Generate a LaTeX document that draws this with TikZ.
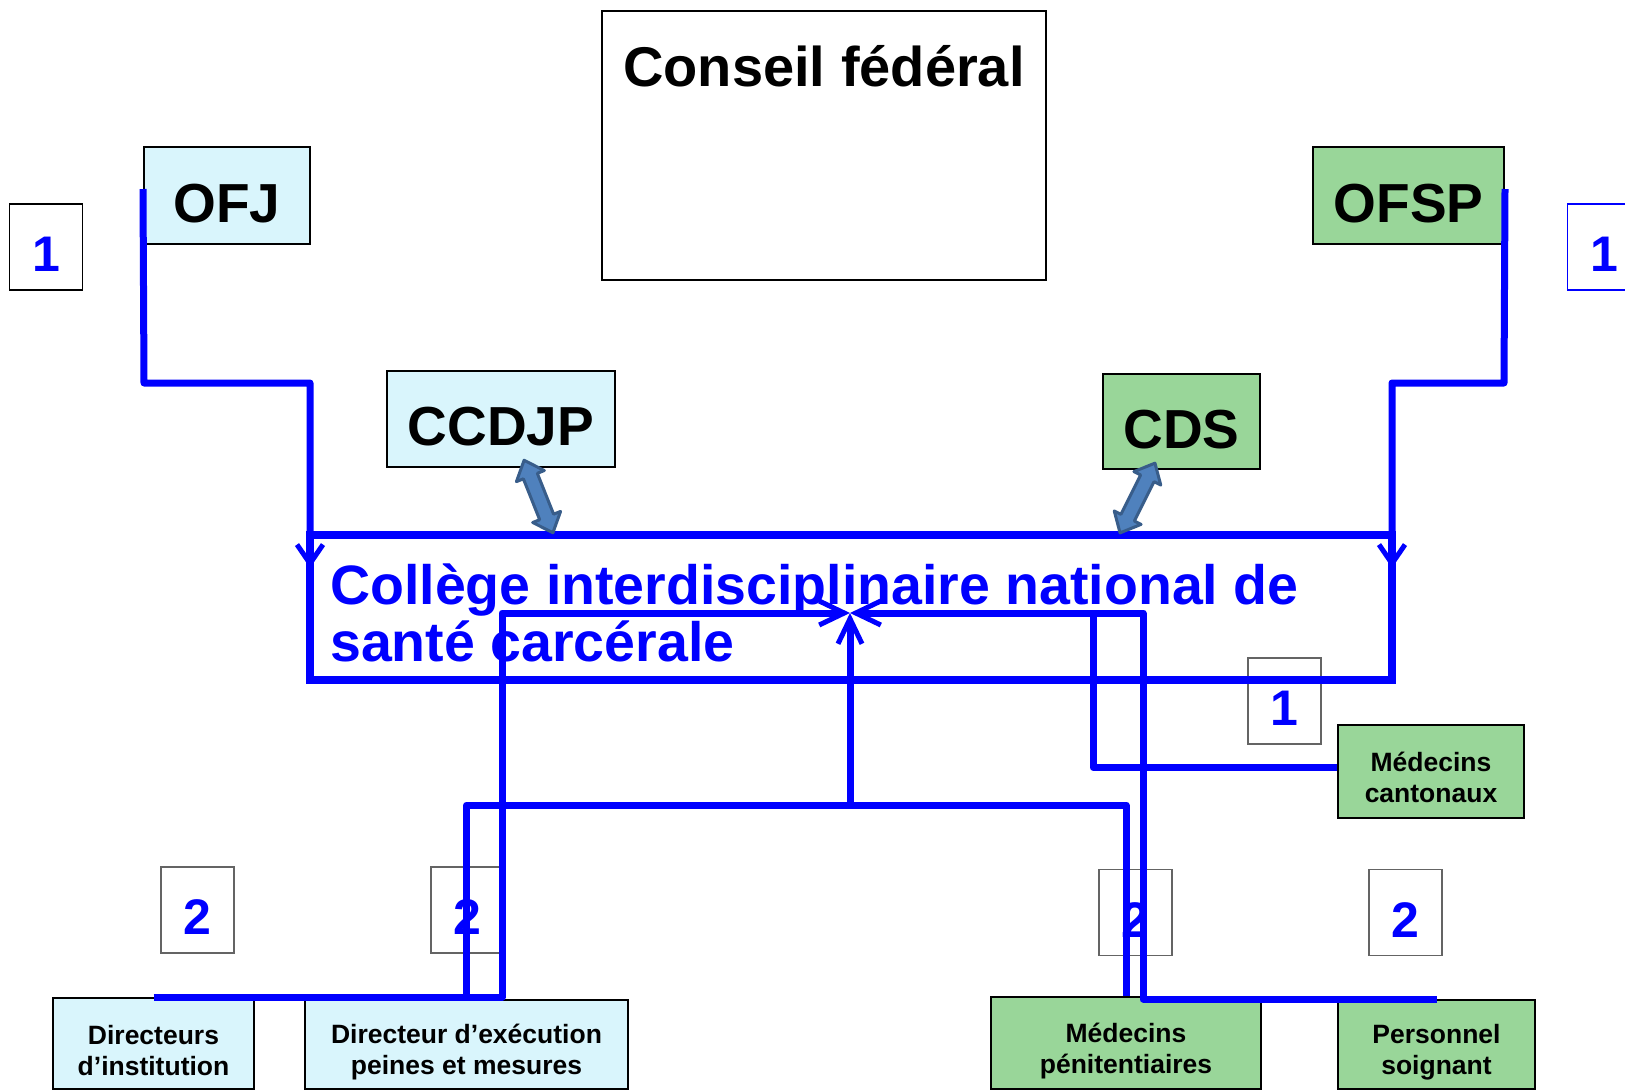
\documentclass[tikz,border=0pt]{standalone}
\usepackage{fontspec}
\setmainfont{Liberation Sans}
\usetikzlibrary{arrows.meta,calc}
\definecolor{cyanfill}{RGB}{217,245,252}
\definecolor{greenfill}{RGB}{153,214,153}
\definecolor{arrfill}{RGB}{79,129,189}
\definecolor{arrdraw}{RGB}{56,93,138}
\definecolor{numgray}{RGB}{100,100,100}
\begin{document}
\begin{tikzpicture}[x=1pt,y=-1pt,
  box/.style={draw=black, line width=2pt, inner sep=0pt},
  cbox/.style={box, fill=cyanfill},
  gbox/.style={box, fill=greenfill},
  bigtxt/.style={font=\fontsize{55}{60}\selectfont\bfseries, text height=53pt, text depth=0pt},
  smalltxt/.style={font=\fontsize{26.5}{31}\selectfont\bfseries, align=center, inner sep=0pt},
  numbox/.style={draw=numgray, line width=1.5pt, minimum width=73pt, minimum height=86pt, inner sep=0pt,
     text=blue, font=\fontsize{50}{50}\selectfont\bfseries, text height=49pt, text depth=0pt},
  bl/.style={draw=blue, line width=7pt, line join=round},
  hubarrow/.style={-{Straight Barb[length=25pt,width=24pt,line width=5pt]}},
  toparrow/.style={-{Straight Barb[length=19pt,width=26pt,line width=5pt]}},
  dblarr/.style={draw=arrdraw, fill=arrfill, line width=3pt, line join=round}
]
\useasboundingbox (0,0) rectangle (1625,1090);

% top boxes
\node[box, minimum width=444pt, minimum height=269pt] (conseil) at (824,145.5) {};
\node[font=\fontsize{56}{60}\selectfont\bfseries, anchor=base] (conseiltxt) at (824,86) {Conseil fédéral};
\node[cbox, bigtxt, minimum width=166pt, minimum height=97pt] (ofj) at (227,195.5) {OFJ};
\node[gbox, bigtxt, minimum width=191pt, minimum height=97pt] (ofsp) at (1408.5,195.5) {OFSP};
\node[cbox, bigtxt, minimum width=228pt, minimum height=96pt] (ccdjp) at (501,419) {CCDJP};
\node[gbox, bigtxt, minimum width=157pt, minimum height=95pt] (cds) at (1181.5,421.5) {CDS};

% number boxes
\node[numbox, draw=black] (n1l) at (46,247) {1};
\node[numbox, draw=blue] (n1r) at (1604,247) {1};
\node[numbox] (n1m) at (1284.5,701) {1};
\node[numbox] (n2a) at (197.5,910) {2};
\node[numbox] (n2b) at (467.5,910) {2};
\node[numbox] (n2c) at (1135.5,912.5) {2};
\node[numbox] (n2d) at (1405.5,912.5) {2};

% college
\node[draw=blue, line width=8pt, minimum width=1082pt, minimum height=145pt, inner sep=0pt] (college) at (851,607.5) {};
\node[anchor=base west, align=left, text=blue, inner sep=0pt,
      font=\fontsize{55.5}{57}\selectfont\bfseries] (coltxt) at (330,661)
      {Collège interdisciplinaire national de\\santé carcérale};

% lower boxes
\node[gbox, minimum width=186pt, minimum height=93pt] (medcant) at (1431,771.5) {};
\node[smalltxt] at ([yshift=-6pt]medcant.center) {Médecins\\cantonaux};
\node[cbox, minimum width=201pt, minimum height=91pt] (dirinst) at (153.5,1043.5) {};
\node[smalltxt] at ([yshift=-7pt]dirinst.center) {Directeurs\\d’institution};
\node[cbox, minimum width=323pt, minimum height=89pt] (direx) at (466.5,1044.5) {};
\node[smalltxt] at ([yshift=-8pt]direx.center) {Directeur d’exécution\\peines et mesures};
\node[gbox, minimum width=270pt, minimum height=92pt] (medpen) at (1126,1043) {};
\node[smalltxt] at ([yshift=-8pt]medpen.center) {Médecins\\pénitentiaires};
\node[gbox, minimum width=197pt, minimum height=89pt] (pers) at (1436.5,1044.5) {};
\node[smalltxt] at ([yshift=-8pt]pers.center) {Personnel\\soignant};

% double block arrows
\begin{scope}[shift={(538.5,496.5)}, rotate=-68.3]
  \draw[dblarr] (-39,0) -- (-22,15) -- (-22,7.5) -- (22,7.5) -- (22,15) -- (39,0)
    -- (22,-15) -- (22,-7.5) -- (-22,-7.5) -- (-22,-15) -- cycle;
\end{scope}
\begin{scope}[shift={(1137.5,498)}, rotate=63.4]
  \draw[dblarr] (-39,0) -- (-22,15) -- (-22,7.5) -- (22,7.5) -- (22,15) -- (39,0)
    -- (22,-15) -- (22,-7.5) -- (-22,-7.5) -- (-22,-15) -- cycle;
\end{scope}

% OFJ / OFSP connectors
\coordinate (ofjs) at ($(ofj.north west)+(0,43)$);
\coordinate (ofjb) at (144,383);
\coordinate (ofje) at (310,568);
\draw[bl, toparrow] (ofjs) -- (ofjb) -| (ofje);
\coordinate (ofsps) at ($(ofsp.north east)+(0,43)$);
\coordinate (ofspb) at (1504,383);
\coordinate (ofspe) at (1392,568);
\draw[bl, toparrow] (ofsps) -- (ofspb) -| (ofspe);

% hub connectors
\coordinate (hub) at (850,613);
\coordinate (c1) at (502,613);
\coordinate (c2) at (850,805);
\coordinate (c3) at (1143,613);
\coordinate (c4) at (1093,613);
\draw[bl, hubarrow] (dirinst.north) -| (c1) -- (hub);
\draw[bl, hubarrow] (direx.north) |- (c2) -- (hub);
\draw[bl] (medpen.north) |- (c2);
\draw[bl, hubarrow] (pers.north) -| (c3) -- (hub);
\draw[bl] ($(medcant.west)+(0,-4)$) -| (c4);
\end{tikzpicture}
\end{document}
